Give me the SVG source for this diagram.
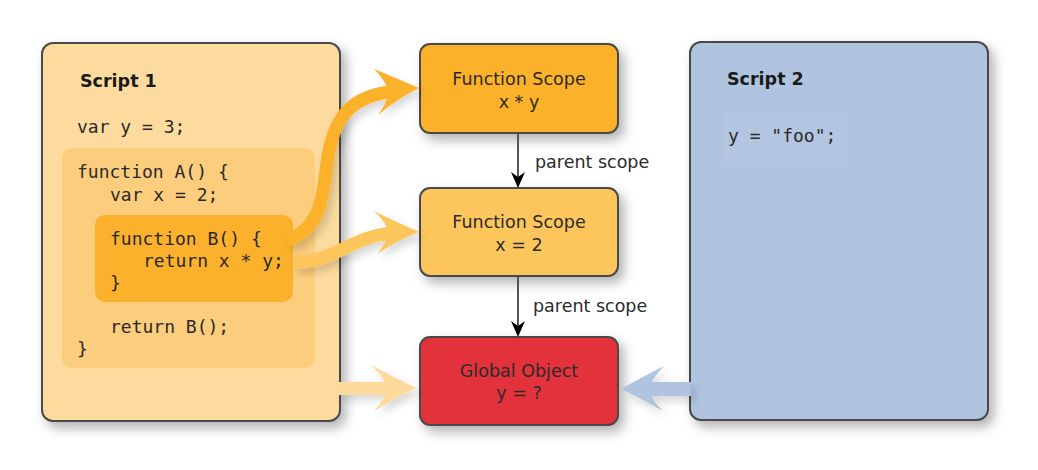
<svg xmlns="http://www.w3.org/2000/svg" width="1038" height="470" viewBox="0 0 1038 470">
<defs>
<style>
.box{stroke:#4a4a4a;stroke-width:2}
.sans{font-family:"DejaVu Sans","Liberation Sans",sans-serif;font-size:17.5px;fill:#2b2b2b}
.title{font-family:"DejaVu Sans","Liberation Sans",sans-serif;font-size:17.5px;font-weight:bold;fill:#1a1a1a}
.mono{font-family:"DejaVu Sans Mono","Liberation Mono",monospace;font-size:18px;fill:#2a2a2a}
.conn{stroke:#555;stroke-width:2;fill:none}
</style>
<filter id="sh" x="-20%" y="-20%" width="150%" height="150%">
<feDropShadow dx="5" dy="6" stdDeviation="6" flood-color="#000" flood-opacity="0.3"/>
</filter>
<filter id="shs" x="-20%" y="-20%" width="150%" height="150%">
<feDropShadow dx="4" dy="5" stdDeviation="4" flood-color="#000" flood-opacity="0.16"/>
</filter>
</defs>
<rect width="1038" height="470" fill="#fff"/>

<g id="script1">
<rect class="box" x="42" y="43" width="298" height="378" rx="11" fill="#fddb9e" filter="url(#sh)"/>
<rect x="62" y="148" width="253" height="220" rx="10" fill="#fccd7d"/>
<rect x="95" y="215" width="198" height="87" rx="10" fill="#fbb12c"/>
<text class="title" x="80" y="87">Script 1</text>
<text class="mono" x="77" y="133" xml:space="preserve">var y = 3;</text>
<text class="mono" x="77" y="178" xml:space="preserve">function A() {</text>
<text class="mono" x="110" y="201" xml:space="preserve">var x = 2;</text>
<text class="mono" x="110" y="245" xml:space="preserve">function B() {</text>
<text class="mono" x="143" y="267" xml:space="preserve">return x * y;</text>
<text class="mono" x="110" y="289">}</text>
<text class="mono" x="110" y="333" xml:space="preserve">return B();</text>
<text class="mono" x="77" y="355">}</text>
</g>

<g id="script2">
<rect class="box" x="690" y="42" width="298" height="378" rx="11" fill="#b0c4e0" filter="url(#sh)"/>
<rect x="725" y="110" width="122" height="53" fill="#b2c6e1"/>
<text class="title" x="727" y="85">Script 2</text>
<text class="mono" x="728" y="142" xml:space="preserve" fill="#3a3a3a">y = "foo";</text>
</g>

<g id="scope1">
<rect class="box" x="420" y="44" width="198" height="89" rx="10" fill="#fbb12c" filter="url(#sh)"/>
<text class="sans" x="519" y="85" text-anchor="middle">Function Scope</text>
<text class="sans" x="519" y="108" text-anchor="middle" xml:space="preserve">x * y</text>
</g>

<g id="scope2">
<rect class="box" x="420" y="188" width="198" height="88" rx="10" fill="#fdc65b" filter="url(#sh)"/>
<text class="sans" x="519" y="228" text-anchor="middle">Function Scope</text>
<text class="sans" x="519" y="251" text-anchor="middle">x = 2</text>
</g>

<g id="global">
<rect class="box" x="420" y="337" width="198" height="88" rx="10" fill="#e3313a" filter="url(#sh)"/>
<text class="sans" x="519" y="377" text-anchor="middle" fill="#3a0808">Global Object</text>
<text class="sans" x="519" y="399" text-anchor="middle" fill="#3a0808">y = ?</text>
</g>

<g id="connectors">
<g filter="url(#shs)">
<path d="M287,241 C318,228 322,205 326,170 C331,125 345,97 390,92" fill="none" stroke="#fbb12c" stroke-width="13"/>
<path d="M419,88 Q396,78 374,69 Q387,82 389,93 Q386,104 378,115 Q398,98 419,88 Z" fill="#fbb12c"/>
</g>
<g filter="url(#shs)">
<path d="M294,262 C330,264 350,238 390,233" fill="none" stroke="#fdc65b" stroke-width="13"/>
<path d="M419,232 Q396,222 374,211 Q387,223 389,233 Q386,243 377,254 Q398,240 419,232 Z" fill="#fdc65b"/>
</g>
<g filter="url(#shs)">
<rect x="339" y="382" width="50" height="13" fill="#fdd99b"/>
<path d="M416,388 Q393,377 371,365 Q385,378 387,388 Q385,399 374,411 Q395,398 416,388 Z" fill="#fdd99b"/>
</g>
<g filter="url(#shs)">
<rect x="648" y="382" width="43" height="14" fill="#b0c4e0"/>
<path d="M621,389 Q642,377 664,366 Q651,379 650,389 Q651,400 663,411 Q642,399 621,389 Z" fill="#b0c4e0"/>
</g>
<path class="conn" d="M518,134 L518,180"/>
<path d="M511,172 L518,177 L525,172 L518,188 Z" fill="#000"/>
<path class="conn" d="M518,277 L518,329"/>
<path d="M511,321 L518,326 L525,321 L518,337 Z" fill="#000"/>
<text class="sans" x="535" y="168">parent scope</text>
<text class="sans" x="533" y="312">parent scope</text>
</g>
</svg>
